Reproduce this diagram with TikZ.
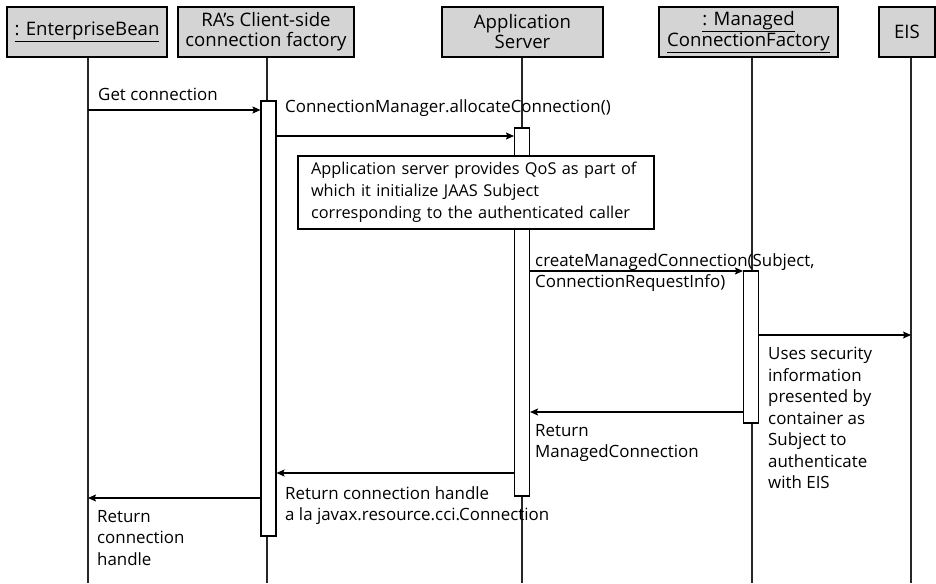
\documentclass[tikz,border=0pt]{standalone}
\usepackage{fontspec}
\setmainfont{Open Sans}
\usetikzlibrary{arrows.meta}
\newcommand\hfnt{\fontsize{18.6}{20}\selectfont}
\newcommand\lfnt{\fontsize{16.9}{21.5}\selectfont}
\newcommand\nfnt{\fontsize{16.3}{21.8}\selectfont}
\tikzset{
  hdr/.style={draw, fill=black!17, line width=1.1pt, minimum height=50pt, align=center, inner sep=1pt, font=\hfnt},
  life/.style={line width=1.1pt, draw=black!85},
  act/.style={draw, fill=white, line width=1.1pt, minimum width=15pt, inner sep=0pt},
  msg/.style={line width=1.1pt, -{Stealth[length=8pt,width=7pt,inset=1.5pt]}},
  lbl/.style={anchor=north west, align=left, inner sep=0pt, font=\lfnt},
  notebox/.style={draw, fill=white, line width=1.1pt, minimum width=356pt, minimum height=73pt, text width=330pt, inner xsep=13pt, align=left, font=\nfnt}
}
\begin{document}
\begin{tikzpicture}[x=1pt,y=-1pt]
\useasboundingbox[fill=white] (0,0) rectangle (936,583);
% headers
\node[hdr, minimum width=160pt] (hA) at (87,32) {\underline{: EnterpriseBean}};
\node[hdr, minimum width=176pt] (hB) at (266,32) {RA’s Client-side\\connection factory};
\node[hdr, minimum width=161pt] (hC) at (522.5,32) {Application\\Server};
\node[hdr, minimum width=179pt] (hD) at (748.5,32) {\underline{: Managed}\\\underline{ConnectionFactory}};
\node[hdr, minimum width=56pt] (hE) at (907,32) {EIS};
% lifeline ends
\coordinate (eA) at (88,583);
\coordinate (eB) at (267,583);
\coordinate (eC) at (522,583);
\coordinate (eD) at (752,583);
\coordinate (eE) at (911,583);
\draw[life] (hA.south -| eA) -- (eA);
\draw[life] (hB.south -| eB) -- (eB);
\draw[life] (hC.south -| eC) -- (eC);
\draw[life] (hD.south -| eD) -- (eD);
\draw[life] (hE.south -| eE) -- (eE);
% activations
\node[act, minimum height=435pt] (aB) at (268.5,318.5) {};
\node[act, minimum height=368pt] (aC) at (522,312) {};
\node[act, minimum height=152pt] (aD) at (751,347) {};
% message levels
\coordinate (m1) at (0,110);
\coordinate (m2) at (0,136);
\coordinate (m3) at (0,271);
\coordinate (m4) at (0,335);
\coordinate (m5) at (0,412);
\coordinate (m6) at (0,473);
\coordinate (m7) at (0,498);
% messages
\draw[msg] (eA |- m1) -- (aB.west |- m1);
\draw[msg] (aB.east |- m2) -- (aC.west |- m2);
\draw[msg] (aC.east |- m3) -- (aD.west |- m3);
\draw[msg] (aD.east |- m4) -- (eE |- m4);
\draw[msg] (aD.west |- m5) -- (aC.east |- m5);
\draw[msg] (aC.west |- m6) -- (aB.east |- m6);
\draw[msg] (aB.west |- m7) -- (eA |- m7);
% note
\node[notebox] (note) at (476,192.5) {Application server provides QoS as part of\\which it initialize JAAS Subject\\corresponding to the authenticated caller};
% labels
\node[lbl] (l1) at (98,88) {Get connection};
\node[lbl] (l2) at (285,99) {ConnectionManager.allocateConnection()};
\node[lbl] (l3) at (535,253) {createManagedConnection(Subject,\\ConnectionRequestInfo)};
\node[lbl] (l4) at (768,347) {Uses security\\information\\presented by\\container as\\Subject to\\authenticate\\with EIS};
\node[lbl] (l5) at (535,424) {Return\\ManagedConnection};
\node[lbl] (l6) at (285,486) {Return connection handle\\a la javax.resource.cci.Connection};
\node[lbl] (l7) at (97,510) {Return\\connection\\handle};
\end{tikzpicture}
\end{document}
